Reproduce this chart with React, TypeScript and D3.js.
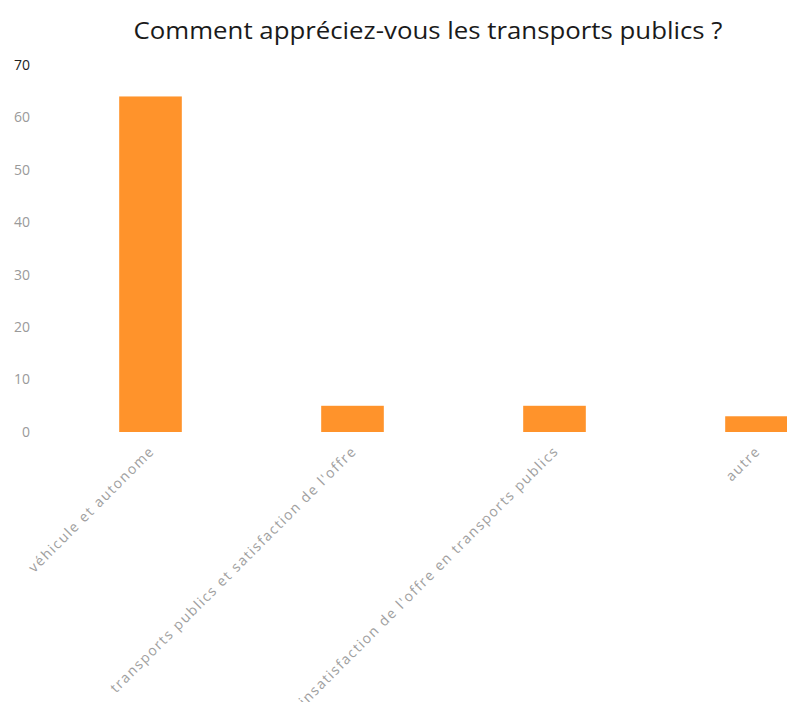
import React from "react";
import * as d3 from "d3";

const categories = [
  "véhicule et autonome",
  "transports publics et satisfaction de l'offre",
  "insatisfaction de l'offre en transports publics",
  "autre",
];
const values = [64, 5, 5, 3];
const yTicks = [0, 10, 20, 30, 40, 50, 60, 70];
const title = "Comment appréciez-vous les transports publics ?";

export default function App() {
  const W = 787;
  const H = 702;
  const x = d3
    .scaleBand<string>()
    .domain(categories)
    .range([49.5, 857.5])
    .paddingInner(0.69)
    .paddingOuter(0.345);
  const y = d3.scaleLinear().domain([0, 70]).range([432, 65]);
  const font = "'Open Sans', 'DejaVu Sans', sans-serif";

  return (
    <svg
      width={W}
      height={H}
      style={{ position: "absolute", left: 0, top: 0, background: "#fff" }}
    >
      <text
        x={428}
        y={39}
        textAnchor="middle"
        fontFamily={font}
        fontSize={23}
        fill="#1a1a1a"
        textLength={589}
        lengthAdjust="spacingAndGlyphs"
      >
        {title}
      </text>
      {yTicks.map((t) => (
        <text
          key={t}
          x={30}
          y={y(t)}
          dy="0.35em"
          textAnchor="end"
          fontFamily={font}
          fontSize={14}
          fill={t === 70 ? "#222" : "#9a9a9a"}
        >
          {t}
        </text>
      ))}
      {categories.map((c, i) => (
        <rect
          key={c}
          x={x(c)}
          y={y(values[i])}
          width={x.bandwidth()}
          height={y(0) - y(values[i])}
          fill="#FF932B"
        />
      ))}
      {categories.map((c) => {
        const cx = (x(c) as number) + x.bandwidth() / 2 + 5;
        const cy = 452;
        return (
          <text
            key={c}
            transform={`translate(${cx},${cy}) rotate(-45)`}
            textAnchor="end"
            fontFamily={font}
            fontSize={14}
            letterSpacing={1.5}
            fill="#a0a0a0"
          >
            {c}
          </text>
        );
      })}
    </svg>
  );
}
